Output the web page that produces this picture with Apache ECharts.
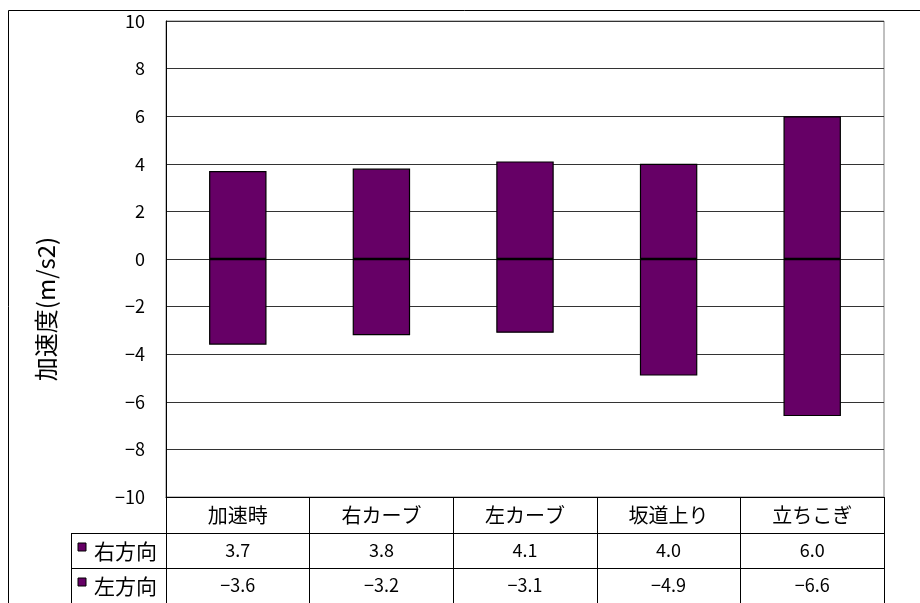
<!DOCTYPE html>
<html>
<head>
<meta charset="utf-8">
<script src="https://cdn.jsdelivr.net/npm/echarts@6/dist/echarts.min.js"></script>
<style>
html,body{margin:0;padding:0;background:#fff;}
#chart{width:920px;height:603px;}
</style>
</head>
<body>
<div id="chart"></div>
<script>
const categories = ['加速時', '右カーブ', '左カーブ', '坂道上り', '立ちこぎ'];
const seriesNames = ['右方向', '左方向'];
const rightValues = [3.7, 3.8, 4.1, 4.0, 6.0];
const leftValues = [-3.6, -3.2, -3.1, -4.9, -6.6];
const yMin = -10, yMax = 10, yInterval = 2;
const yAxisTitle = '加速度(m/s2)';

const FONT = '"Noto Sans CJK JP", "Liberation Sans", sans-serif';
const BAR = '#660066';
const fmtNum = v => (v < 0 ? '\u2212' : '') + Math.abs(v).toFixed(1);
const fmtTick = v => (v < 0 ? '\u2212' : '') + Math.abs(v);

const GL = 166, GT = 21, GW = 718, GH = 476;
const GB = GT + GH;
const ROW1 = 36, ROW2 = 35;

function tableAxis(offset, formatter, tickLen, margin, fontSize) {
  return {
    type: 'category',
    data: categories,
    position: 'bottom',
    offset: offset,
    boundaryGap: true,
    axisLine: { show: true, onZero: false, lineStyle: { color: '#000', width: 1 } },
    axisTick: { show: true, length: tickLen, inside: false, lineStyle: { color: '#000', width: 1 } },
    axisLabel: { show: true, interval: 0, margin: margin, fontSize: fontSize, color: '#000', fontFamily: FONT, formatter: formatter },
    splitLine: { show: false }
  };
}

const chart = echarts.init(document.getElementById('chart'), null, { renderer: 'canvas' });
chart.setOption({
  backgroundColor: '#fff',
  animation: false,
  textStyle: { fontFamily: FONT },
  grid: { left: GL, top: GT, width: GW, height: GH, show: true, borderColor: '#808080', borderWidth: 1, backgroundColor: 'transparent' },
  xAxis: [
    tableAxis(0, v => v, ROW1, 8, 20),
    tableAxis(ROW1, (v, i) => fmtNum(rightValues[i]), ROW2, 8, 18),
    tableAxis(ROW1 + ROW2, (v, i) => fmtNum(leftValues[i]), ROW2, 8, 18)
  ],
  yAxis: {
    type: 'value',
    min: yMin, max: yMax, interval: yInterval,
    name: yAxisTitle,
    nameLocation: 'middle',
    nameGap: 108,
    nameTextStyle: { fontSize: 24, color: '#000', fontFamily: FONT, padding: [0, 100, 0, 0] },
    axisLine: { show: true, onZero: false, lineStyle: { color: '#000', width: 1 } },
    axisTick: { show: false },
    axisLabel: { margin: 21, fontSize: 18, color: '#000', fontFamily: FONT, formatter: fmtTick },
    splitLine: { show: true, lineStyle: { color: '#333', width: 1 } }
  },
  series: [
    {
      name: seriesNames[0], type: 'bar', data: rightValues, xAxisIndex: 0,
      barWidth: '40%', barGap: '-100%',
      itemStyle: { color: BAR, borderColor: '#000', borderWidth: 1.2 }
    },
    {
      name: seriesNames[1], type: 'bar', data: leftValues, xAxisIndex: 0,
      barWidth: '40%', barGap: '-100%',
      itemStyle: { color: BAR, borderColor: '#000', borderWidth: 1.2 }
    }
  ],
  graphic: [
    { type: 'polyline', shape: { points: [[8.5, 603], [8.5, 10.5], [920, 10.5]] }, style: { stroke: '#000', lineWidth: 1, fill: null } },
    { type: 'line', shape: { x1: 71, y1: GB + ROW1 + 0.5, x2: GL, y2: GB + ROW1 + 0.5 }, style: { stroke: '#000', lineWidth: 1 } },
    { type: 'line', shape: { x1: 71, y1: GB + ROW1 + ROW2 + 0.5, x2: GL, y2: GB + ROW1 + ROW2 + 0.5 }, style: { stroke: '#000', lineWidth: 1 } },
    { type: 'line', shape: { x1: 71.5, y1: GB + ROW1, x2: 71.5, y2: 603 }, style: { stroke: '#000', lineWidth: 1 } },
    { type: 'rect', shape: { x: 78, y: GB + ROW1 + 10, width: 8, height: 8 }, style: { fill: BAR, stroke: '#000', lineWidth: 1 } },
    { type: 'rect', shape: { x: 78, y: GB + ROW1 + ROW2 + 10, width: 8, height: 8 }, style: { fill: BAR, stroke: '#000', lineWidth: 1 } },
    { type: 'text', style: { x: 94, y: GB + ROW1 + ROW2 / 2 + 1, text: seriesNames[0], fontSize: 21, fontFamily: FONT, fill: '#000', textVerticalAlign: 'middle', verticalAlign: 'middle' } },
    { type: 'text', style: { x: 94, y: GB + ROW1 + ROW2 + ROW2 / 2 + 1, text: seriesNames[1], fontSize: 21, fontFamily: FONT, fill: '#000', textVerticalAlign: 'middle', verticalAlign: 'middle' } }
  ]
});
</script>
</body>
</html>
